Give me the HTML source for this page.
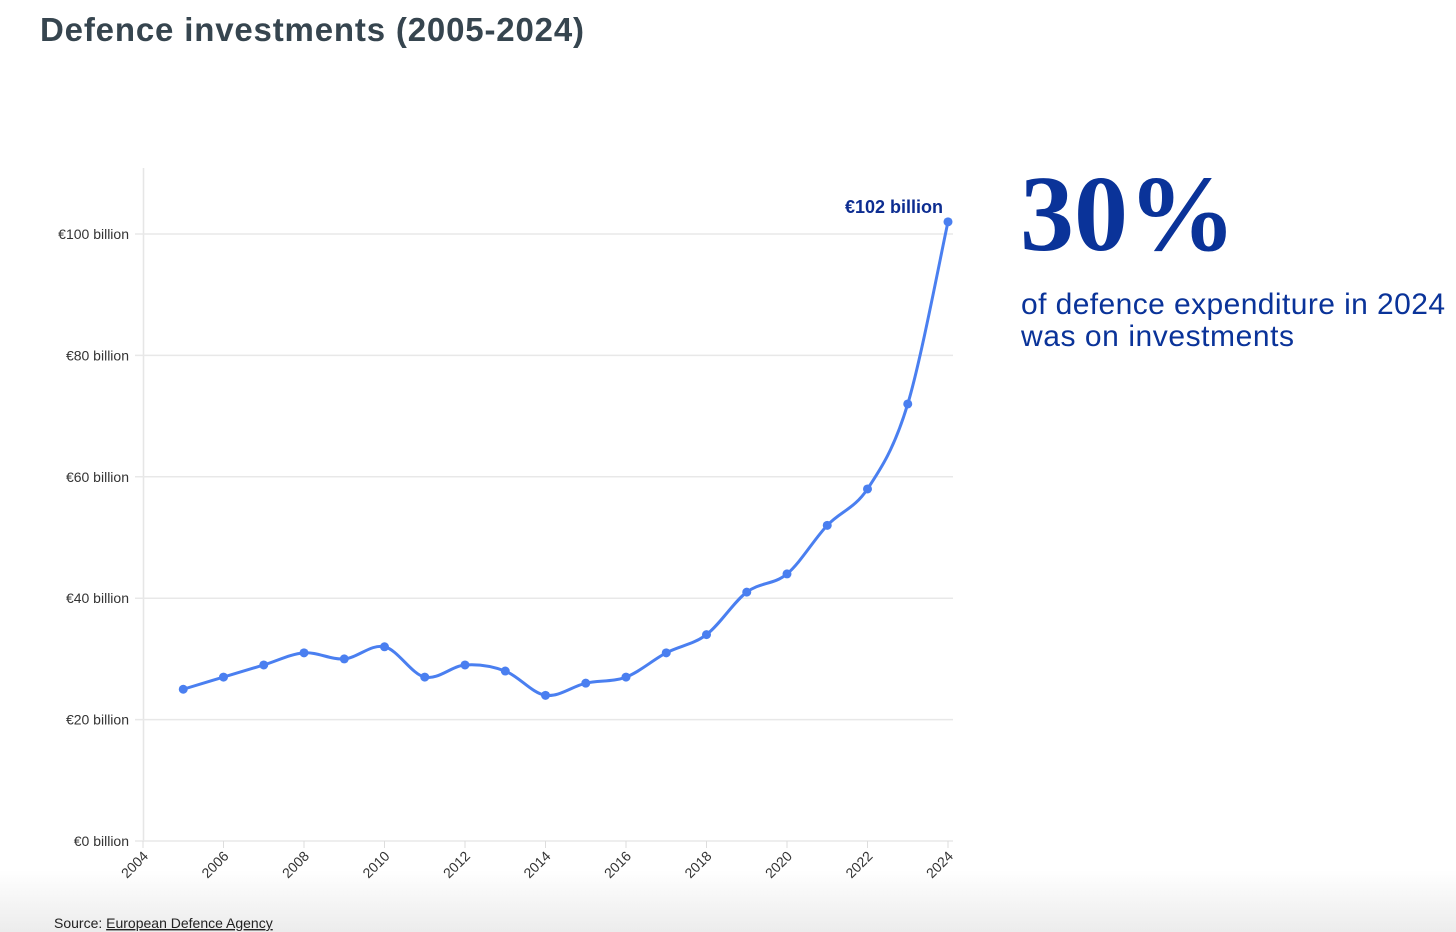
<!DOCTYPE html>
<html><head><meta charset="utf-8"><style>
body{margin:0;background:#fff;}
svg{display:block;font-family:"Liberation Sans",sans-serif;}
</style></head><body>
<svg id="c" width="1456" height="932" viewBox="0 0 1456 932">
<defs><linearGradient id="fade" x1="0" y1="0" x2="0" y2="1"><stop offset="0" stop-color="#fff"/><stop offset="1" stop-color="#ececec"/></linearGradient></defs>
<rect x="0" y="870" width="1456" height="62" fill="url(#fade)"/>
<text x="40" y="41" font-size="33" font-weight="bold" fill="#36454f" textLength="544">Defence investments (2005-2024)</text>
<g id="grid"></g>
<g id="yt"></g>
<g id="xt"></g>
<path id="line" fill="none" stroke="#4a7ff0" stroke-width="3"/>
<g id="pts"></g>
<text id="lbl" font-size="18" font-weight="bold" fill="#0d2d91" text-anchor="end"></text>
<text x="1020" y="250" font-family="Liberation Serif,serif" font-size="108" font-weight="bold" fill="#0a3399">30%</text>
<text x="1021" y="314" font-size="30" fill="#0a3399" textLength="424">of defence expenditure in 2024</text>
<text x="1021" y="346" font-size="30" fill="#0a3399" textLength="273">was on investments</text>
<text x="54" y="928" font-size="14" fill="#222">Source: <tspan text-decoration="underline">European Defence Agency</tspan></text>
</svg>
<script>
const years=[2005,2006,2007,2008,2009,2010,2011,2012,2013,2014,2015,2016,2017,2018,2019,2020,2021,2022,2023,2024];
const values=[25,27,29,31,30,32,27,29,28,24,26,27,31,34,41,44,52,58,72,102];
const yTicks=[0,20,40,60,80,100];
const xTicks=[2004,2006,2008,2010,2012,2014,2016,2018,2020,2022,2024];
const NS="http://www.w3.org/2000/svg";
const X=v=>143+(v-2004)*(948-143)/20;
const Y=v=>841-v*(841-234)/100;
function mk(t,a,p){const e=document.createElementNS(NS,t);for(const k in a)e.setAttribute(k,a[k]);p.appendChild(e);return e;}
const grid=document.getElementById('grid'),yt=document.getElementById('yt'),xt=document.getElementById('xt');
mk('line',{x1:143.5,y1:168,x2:143.5,y2:841,stroke:'#e6e6e6','stroke-width':1.5},grid);
yTicks.forEach(v=>{
 const l=mk('line',{x1:135,x2:953,y1:Y(v),y2:Y(v),stroke:'#e8e8e8','stroke-width':1.5},grid);
 
 
 const t=mk('text',{x:129,y:Y(v)+5,'font-size':14,fill:'#333','text-anchor':'end'},yt);
 t.textContent='€'+v+' billion';
 
 
});
xTicks.forEach(v=>{
 mk('line',{x1:X(v),x2:X(v),y1:841,y2:848,stroke:'#ddd'},xt);
 const t=mk('text',{x:0,y:0,'font-size':14,fill:'#333','text-anchor':'end',transform:`translate(${X(v)+6},${857}) rotate(-45)`},xt);
 t.textContent=v;
 
 
});
const P=years.map((y,i)=>[X(y),Y(values[i])]);
let d=`M${P[0][0]},${P[0][1]}`;
for(let i=0;i<P.length-1;i++){
 const p0=P[Math.max(0,i-1)],p1=P[i],p2=P[i+1],p3=P[Math.min(P.length-1,i+2)];
 const k=1/6;
 d+=` C${p1[0]+(p2[0]-p0[0])*k},${p1[1]+(p2[1]-p0[1])*k} ${p2[0]-(p3[0]-p1[0])*k},${p2[1]-(p3[1]-p1[1])*k} ${p2[0]},${p2[1]}`;
}
document.getElementById('line').setAttribute('d',d);
const pts=document.getElementById('pts');
P.forEach(p=>{
 const c=mk('circle',{cx:p[0],cy:p[1],r:4.5,fill:'#4a7ff0'},pts);
 
 
});
const last=P[P.length-1],lbl=document.getElementById('lbl');
lbl.setAttribute('x',last[0]-5);lbl.setAttribute('y',last[1]-9);
lbl.textContent='€'+values[values.length-1]+' billion';
</script>
</body></html>
